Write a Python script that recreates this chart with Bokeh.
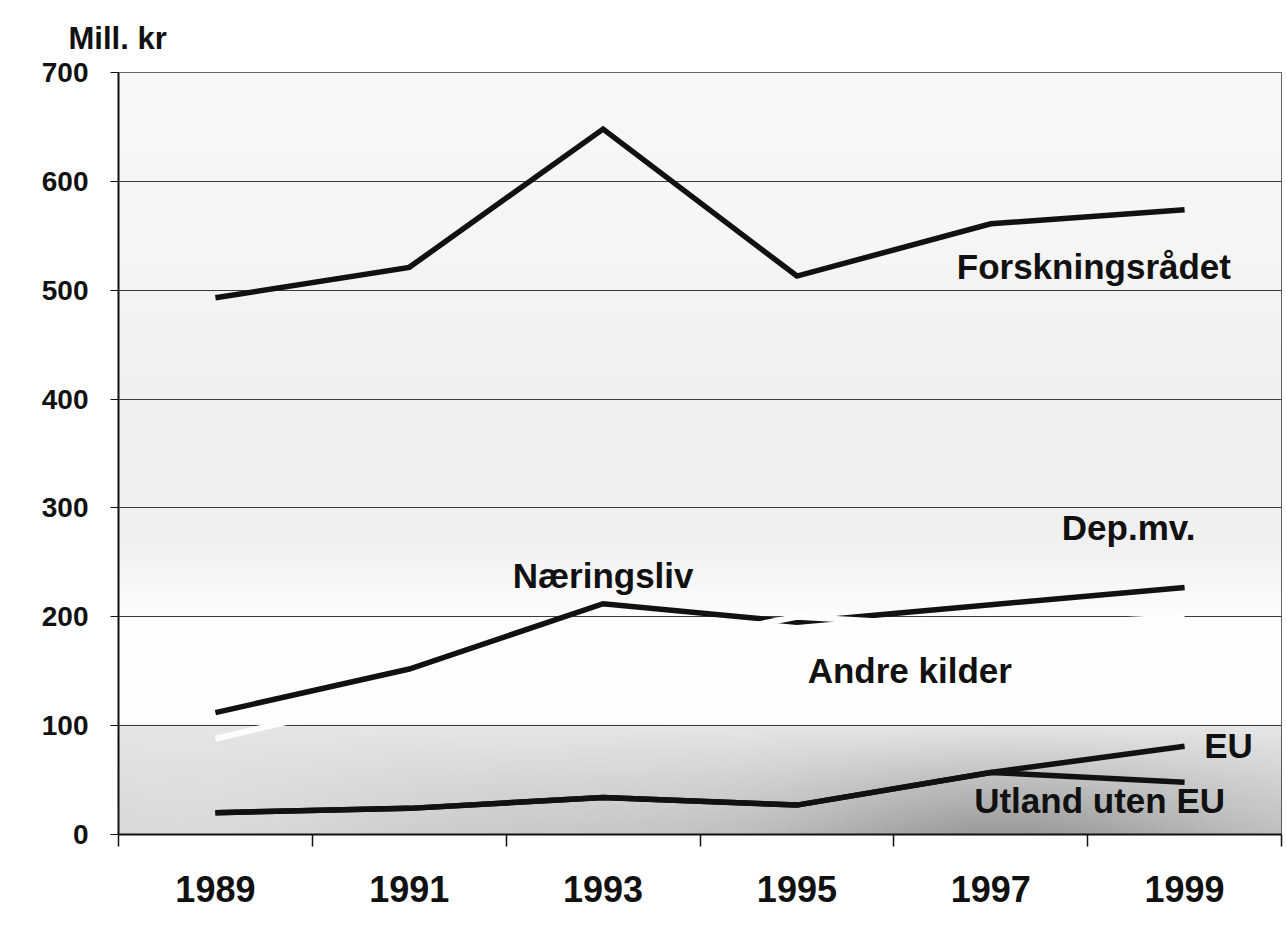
import numpy as np
from bokeh.plotting import figure
from bokeh.models import Range1d, FixedTicker
from bokeh.core.properties import value
from bokeh.embed import file_html
from bokeh.resources import INLINE

# ---- data ----
years = ["1989", "1991", "1993", "1995", "1997", "1999"]
forskningsradet = [493, 521, 648, 513, 561, 574]
naeringsliv = [112, 152, 212, 195, 211, 227]
andre_kilder = [88, 130, 165, 200, 190, 200]
eu = [20, 24, 34, 27, 57, 81]
utland_uten_eu = [20, 24, 34, 27, 57, 48]
y_ticks = [0, 100, 200, 300, 400, 500, 600, 700]

# series labels: text, anchor year, value, pixel offset, align
series_labels = [
    ("Forskningsrådet", "1997", 522, -34, "left"),
    ("Næringsliv", "1993", 238, 0, "center"),
    ("Dep.mv.", "1999", 282, -56, "center"),
    ("Andre kilder", "1997", 151, -81, "center"),
    ("EU", "1999", 82, 44, "center"),
    ("Utland uten EU", "1999", 31, -85, "center"),
]

FONT = "Liberation Sans"
n = len(years)
# each year occupies one unit-wide slot; points sit at the slot centre
pos = {yr: i + 0.5 for i, yr in enumerate(years)}
xs = [pos[yr] for yr in years]

p = figure(
    x_range=Range1d(0, n),
    y_range=Range1d(0, 700),
    width=1284, height=933,
    output_backend="svg", toolbar_location=None,
    min_border_left=118, min_border_right=3,
    min_border_top=72, min_border_bottom=99,
)

# ---- background shading (scan-like grey gradient) ----
H, W = 350, 120
yy = np.linspace(0, 700, H)[:, None]
xx = np.linspace(0, n, W)[None, :]
stops_y = [0, 50, 99, 101, 190, 270, 350, 450, 550, 700]
stops_g = [200, 214, 230, 254, 254, 241, 239, 242, 246, 248]
g = np.interp(yy, stops_y, stops_g) * np.ones_like(xx)
band = np.clip((100 - yy) / 100, 0, 1)
dark = np.exp(-((xx - 4.6) / 1.1) ** 2) * band * 45
light = np.exp(-((xx - 0.3) / 1.2) ** 2) * band * 18
g = np.clip(g - dark + light, 0, 255).astype(np.uint8)
img = np.empty((H, W), dtype=np.uint32)
view = img.view(dtype=np.uint8).reshape((H, W, 4))
view[..., 0] = g
view[..., 1] = g
view[..., 2] = g
view[..., 3] = 255
p.image_rgba(image=[img], x=0, y=0, dw=n, dh=700, level="image")

# ---- lines ----
LW = 5.5
p.line(xs, naeringsliv, line_color="#111111", line_width=LW, line_join="miter")
p.line(xs, andre_kilder, line_color="#fdfdfd", line_width=6, line_join="miter")
p.line(xs, forskningsradet, line_color="#111111", line_width=LW, line_join="miter")
p.line(xs, utland_uten_eu, line_color="#111111", line_width=LW, line_join="miter")
p.line(xs, eu, line_color="#111111", line_width=LW, line_join="miter")

for txt, yr, yv, dx, al in series_labels:
    p.text(x=[pos[yr]], y=[yv], text=[txt], x_offset=dx, text_align=al,
           text_baseline="middle", text_font=value(FONT), text_font_style="bold",
           text_font_size="35px", text_color="#111111")

# ---- y axis ----
p.yaxis.ticker = FixedTicker(ticks=y_ticks)
p.yaxis.axis_line_width = 2
p.yaxis.axis_line_color = "#111111"
p.yaxis.major_tick_out = 8
p.yaxis.major_tick_in = 0
p.yaxis.major_tick_line_color = "#111111"
p.yaxis.minor_tick_line_color = None
p.yaxis.major_label_standoff = 22
p.yaxis.major_label_text_font = FONT
p.yaxis.major_label_text_font_style = "bold"
p.yaxis.major_label_text_font_size = "28px"
p.yaxis.major_label_text_color = "#111111"

p.ygrid.ticker = FixedTicker(ticks=y_ticks)
p.ygrid.grid_line_color = "#3a3a3a"
p.ygrid.grid_line_width = 1
p.xgrid.visible = False

# ---- x axis: ticks at slot edges, labels at slot centres ----
xaxis = p.xaxis[0]
xaxis.ticker = FixedTicker(ticks=xs, minor_ticks=list(range(n + 1)))
xaxis.major_label_overrides = {x: yr for x, yr in zip(xs, years)}
xaxis.axis_line_width = 2
xaxis.axis_line_color = "#111111"
xaxis.major_tick_line_color = None
xaxis.major_tick_out = 0
xaxis.major_tick_in = 0
xaxis.minor_tick_out = 12
xaxis.minor_tick_in = 0
xaxis.minor_tick_line_color = "#111111"
xaxis.minor_tick_line_width = 1.5
xaxis.major_label_standoff = 29
xaxis.major_label_text_font = FONT
xaxis.major_label_text_font_style = "bold"
xaxis.major_label_text_font_size = "36px"
xaxis.major_label_text_color = "#111111"

# ---- title as unit label ----
p.title.text = "Mill. kr"
p.title.align = "left"
p.title.offset = -50
p.title.text_font = FONT
p.title.text_font_style = "bold"
p.title.text_font_size = "31px"
p.title.text_color = "#111111"
p.title.standoff = 33

p.outline_line_color = "#333333"
p.outline_line_width = 1
p.border_fill_color = "white"
p.background_fill_color = "white"

open("out.html", "w").write(file_html(p, INLINE))
